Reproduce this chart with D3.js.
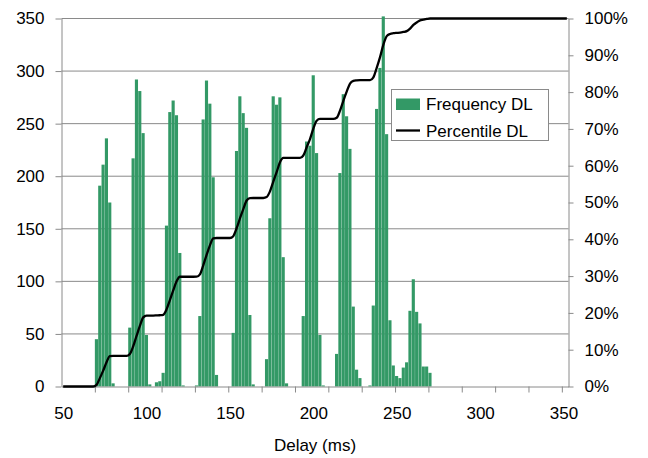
<!DOCTYPE html>
<html>
<head>
<meta charset="utf-8">
<script src="https://cdn.jsdelivr.net/npm/d3@7"></script>
<style>
  body { margin: 0; background: #fff; }
  text { font-family: "Liberation Sans", Arial, sans-serif; fill: #000; }
</style>
</head>
<body>
<svg id="chart" width="648" height="458"></svg>
<script>
// Downlink delay histogram: 2 ms bins, only non-empty bins listed
const delayMs = [
  70, 72, 74, 76, 78, 80,
  90, 92, 94, 96, 98, 100, 102,
  106, 108, 110, 112, 114, 116, 118, 120, 122,
  130, 132, 134, 136, 138, 140, 142,
  152, 154, 156, 158, 160, 162, 164,
  172, 174, 176, 178, 180, 182, 184,
  194, 196, 198, 200, 202, 204, 206,
  214, 216, 218, 220, 222, 224, 226, 228,
  234, 236, 238, 240, 242, 244, 246, 248,
  250, 252, 254, 256, 258, 260, 262, 264, 266, 268, 270
];
const frequencyDL = [
  45, 191, 211, 236, 175, 3,
  56, 217, 292, 281, 241, 49, 2,
  4, 5, 13, 153, 261, 272, 258, 127, 1,
  1, 67, 254, 291, 269, 199, 11,
  51, 224, 276, 260, 246, 68, 2,
  26, 160, 276, 268, 275, 123, 3,
  67, 233, 229, 296, 222, 49, 1,
  31, 203, 278, 257, 226, 76, 16, 8,
  1, 77, 264, 303, 352, 240, 63, 20,
  10, 8, 18, 23, 72, 102, 71, 60, 19, 19, 13
];

const xLabels = [50, 100, 150, 200, 250, 300, 350];
const countTicks = [0, 50, 100, 150, 200, 250, 300, 350];
const percentTicks = [0, 0.1, 0.2, 0.3, 0.4, 0.5, 0.6, 0.7, 0.8, 0.9, 1];
const seriesNames = ["Frequency DL", "Percentile DL"];
const xTitle = "Delay (ms)";

// Full category list (every 2 ms bin on the axis), empty bins count as 0
const binWidth = 2;
const bins = d3.range(50, 353, binWidth);
const countByDelay = new Map(delayMs.map((d, i) => [d, frequencyDL[i]]));
const table = bins.map(d => ({ delay: d, count: countByDelay.get(d) || 0 }));
const total = d3.sum(table, d => d.count);
const running = d3.cumsum(table, d => d.count);
table.forEach((d, i) => { d.pct = running[i] / total; });

const svg = d3.select("#chart");
const plotLeft = 61.5, plotRight = 568.5, plotTop = 18.5, plotBottom = 386.5;
const gridColor = "#8a8a8a";

const x = d3.scaleLinear().domain([49, 353]).range([plotLeft, plotRight]);
const y = d3.scaleLinear().domain([0, 350]).range([plotBottom, plotTop]);
const yPct = d3.scaleLinear().domain([0, 1]).range([plotBottom, plotTop]);

// horizontal gridlines
svg.append("g")
  .selectAll("line")
  .data(countTicks.slice(1))
  .join("line")
  .attr("x1", plotLeft).attr("x2", plotRight)
  .attr("y1", d => y(d)).attr("y2", d => y(d))
  .attr("stroke", gridColor).attr("stroke-width", 1);

// frequency bars
svg.append("g")
  .selectAll("rect")
  .data(table.filter(d => d.count > 0))
  .join("rect")
  .attr("x", d => x(d.delay - binWidth / 2))
  .attr("width", d => x(d.delay + binWidth / 2) - x(d.delay - binWidth / 2) - 0.2)
  .attr("y", d => y(d.count))
  .attr("height", d => y(0) - y(d.count))
  .attr("fill", "#339966");

// left axis (counts)
const gLeft = svg.append("g")
  .attr("transform", `translate(${plotLeft},0)`)
  .call(d3.axisLeft(y).tickValues(countTicks).tickSize(6).tickSizeOuter(0).tickPadding(11));

// right axis (percentile)
const gRight = svg.append("g")
  .attr("transform", `translate(${plotRight},0)`)
  .call(d3.axisRight(yPct).tickValues(percentTicks).tickFormat(d3.format(".0%"))
    .tickSize(5).tickSizeOuter(0).tickPadding(11));

// bottom axis: tick marks every 10 bins, labels every 50 ms
const gBottomTicks = svg.append("g")
  .attr("transform", `translate(0,${plotBottom})`)
  .call(d3.axisBottom(x).tickValues(d3.range(69, 350, 20)).tickSize(6).tickSizeOuter(0).tickFormat(""));
const gBottomLabels = svg.append("g")
  .attr("transform", `translate(0,${plotBottom})`)
  .call(d3.axisBottom(x).tickValues(xLabels).tickSize(0).tickPadding(20));
gBottomLabels.select(".domain").remove();

[gLeft, gRight, gBottomTicks, gBottomLabels].forEach(g => {
  g.selectAll("path.domain").attr("stroke", gridColor);
  g.selectAll(".tick line").attr("stroke", gridColor);
  g.selectAll("text").attr("font-size", 17).attr("font-family", "'Liberation Sans', Arial, sans-serif").attr("fill", "#000");
});

// cumulative percentile line
const line = d3.line()
  .x(d => x(d.delay))
  .y(d => yPct(d.pct))
  .curve(d3.curveMonotoneX);
svg.append("path")
  .datum(table)
  .attr("d", line)
  .attr("fill", "none")
  .attr("stroke", "#000")
  .attr("stroke-width", 2.3)
  .attr("stroke-linejoin", "round");

// axis title
svg.append("text")
  .attr("x", (plotLeft + plotRight) / 2)
  .attr("y", 451)
  .attr("text-anchor", "middle")
  .attr("font-size", 17)
  .text(xTitle);

// legend
const legend = svg.append("g");
legend.append("rect")
  .attr("x", 391.5).attr("y", 89.5).attr("width", 157).attr("height", 51)
  .attr("fill", "#fff").attr("stroke", gridColor);
legend.append("rect")
  .attr("x", 396).attr("y", 98.5).attr("width", 24).attr("height", 11.5)
  .attr("fill", "#339966");
legend.append("line")
  .attr("x1", 396).attr("x2", 420).attr("y1", 130.5).attr("y2", 130.5)
  .attr("stroke", "#000").attr("stroke-width", 2.3);
legend.selectAll("text.item")
  .data(seriesNames)
  .join("text")
  .attr("class", "item")
  .attr("x", 426)
  .attr("y", (d, i) => 110 + i * 26.5)
  .attr("font-size", 17)
  .text(d => d);
</script>
</body>
</html>
